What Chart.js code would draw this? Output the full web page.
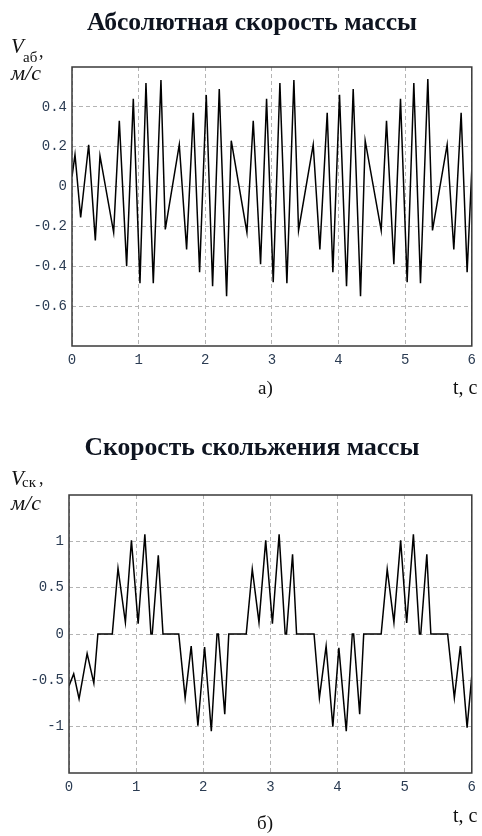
<!DOCTYPE html>
<html>
<head>
<meta charset="utf-8">
<script src="https://cdn.jsdelivr.net/npm/chart.js@4/dist/chart.umd.min.js"></script>
<style>
  body { margin: 0; background: #fff; }
  #page { position: relative; width: 482px; height: 836px; overflow: hidden; }
  canvas { position: absolute; left: 0; }
  .txt { position: absolute; line-height: 1; white-space: nowrap; font-family: "Liberation Serif", serif; color: #111; }
  .title { font-weight: bold; font-size: 25.6px; transform: translateX(-50%); color: #0e1420; }
  .it { font-style: italic; }
</style>
</head>
<body>
<div id="page">
  <canvas id="chartA" width="482" height="380" style="top:0"></canvas>
  <canvas id="chartB" width="482" height="400" style="top:420px"></canvas>

  <div class="txt title" style="left:252px; top:9px">Абсолютная скорость массы</div>
  <div class="txt it" style="left:11px; top:36px; font-size:21px">V</div>
  <div class="txt" style="left:23px; top:50px; font-size:15px">аб</div>
  <div class="txt" style="left:39px; top:42px; font-size:18px">,</div>
  <div class="txt it" style="left:11px; top:62px; font-size:22px">м/с</div>
  <div class="txt" style="left:258px; top:378px; font-size:19px">а)</div>
  <div class="txt" style="left:453px; top:377px; font-size:20px">t, c</div>

  <div class="txt title" style="left:252px; top:434px">Скорость скольжения массы</div>
  <div class="txt it" style="left:11px; top:468px; font-size:21px">V</div>
  <div class="txt" style="left:22px; top:475px; font-size:15px">ск</div>
  <div class="txt" style="left:39px; top:469px; font-size:18px">,</div>
  <div class="txt it" style="left:11px; top:492px; font-size:22px">м/с</div>
  <div class="txt" style="left:257px; top:813px; font-size:19px">б)</div>
  <div class="txt" style="left:453px; top:805px; font-size:20px">t, c</div>
</div>
<script>
// а) абсолютная скорость массы: время (с) и скорость (м/с) в точках экстремумов
const tAbs = [0, 0.045, 0.13, 0.25, 0.35, 0.42, 0.625, 0.71, 0.82, 0.92, 1.02, 1.11, 1.22, 1.335, 1.40,
  1.61, 1.72, 1.82, 1.915, 2.015, 2.11, 2.21, 2.32, 2.39, 2.625, 2.72, 2.83, 2.92, 3.02, 3.12, 3.225,
  3.33, 3.40, 3.62, 3.72, 3.83, 3.915, 4.015, 4.12, 4.22, 4.33, 4.40, 4.64, 4.72, 4.83, 4.93, 5.03,
  5.13, 5.23, 5.34, 5.41, 5.63, 5.73, 5.84, 5.93, 6.0];
const vAbs = [0.05, 0.16, -0.155, 0.21, -0.27, 0.155, -0.23, 0.33, -0.40, 0.44, -0.485, 0.52, -0.485, 0.535, -0.215,
  0.21, -0.315, 0.37, -0.43, 0.46, -0.50, 0.49, -0.55, 0.23, -0.23, 0.33, -0.39, 0.44, -0.48, 0.52, -0.485,
  0.535, -0.22, 0.21, -0.315, 0.37, -0.43, 0.46, -0.50, 0.49, -0.55, 0.23, -0.22, 0.33, -0.39, 0.44, -0.48,
  0.52, -0.485, 0.54, -0.22, 0.21, -0.315, 0.37, -0.43, 0.085];

// б) скорость скольжения массы
const tSk = [0, 0.07, 0.15, 0.27, 0.37, 0.43, 0.645, 0.73, 0.84, 0.93, 1.03, 1.13, 1.22, 1.24, 1.33, 1.40,
  1.635, 1.73, 1.82, 1.92, 2.02, 2.12, 2.205, 2.225, 2.32, 2.38, 2.64, 2.73, 2.83, 2.93, 3.03, 3.13,
  3.22, 3.24, 3.33, 3.39, 3.65, 3.73, 3.83, 3.93, 4.02, 4.13, 4.22, 4.24, 4.33, 4.39, 4.65, 4.74,
  4.84, 4.94, 5.03, 5.13, 5.22, 5.24, 5.33, 5.39, 5.64, 5.74, 5.83, 5.93, 6.0];
const vSk = [-0.56, -0.43, -0.70, -0.21, -0.53, 0, 0, 0.71, 0.125, 1.01, 0.11, 1.075, 0, 0, 0.85, 0,
  0, -0.69, -0.13, -0.99, -0.14, -1.05, 0, 0, -0.865, 0, 0, 0.70, 0.125, 1.01, 0.11, 1.075,
  0, 0, 0.86, 0, 0, -0.69, -0.13, -1.0, -0.15, -1.05, 0, 0, -0.865, 0, 0, 0.70,
  0.125, 1.01, 0.12, 1.075, 0, 0, 0.86, 0, 0, -0.69, -0.13, -1.01, -0.45];

const xTicks = [0, 1, 2, 3, 4, 5, 6];
const yTicksAbs = [-0.6, -0.4, -0.2, 0, 0.2, 0.4];
const yTicksSk = [-1, -0.5, 0, 0.5, 1];

// рамка вокруг области графика
const boxPlugin = {
  id: 'box',
  afterDraw(chart) {
    const a = chart.chartArea, ctx = chart.ctx;
    ctx.save();
    ctx.strokeStyle = '#3a3a3a';
    ctx.lineWidth = 1.5;
    ctx.strokeRect(a.left, a.top, a.right - a.left, a.bottom - a.top);
    ctx.restore();
  }
};

function makeChart(id, ts, vs, yMin, yMax, yTicks, pad, yWidth) {
  const tickFont = { family: 'Liberation Mono', size: 14 };
  const grid = { color: '#b4b4b4', lineWidth: 1, drawTicks: false };
  return new Chart(document.getElementById(id), {
    type: 'line',
    data: {
      datasets: [{
        data: ts.map((t, i) => ({ x: t, y: vs[i] })),
        borderColor: '#000',
        borderWidth: 1.5,
        pointRadius: 0,
        tension: 0
      }]
    },
    options: {
      responsive: false,
      animation: false,
      layout: { padding: pad },
      plugins: { legend: { display: false }, tooltip: { enabled: false } },
      scales: {
        x: {
          type: 'linear', min: 0, max: 6,
          afterBuildTicks: s => { s.ticks = xTicks.map(v => ({ value: v })); },
          afterFit: s => { s.height = 24; },
          ticks: { font: tickFont, color: '#2a3b52', padding: 6, maxRotation: 0, callback: v => String(v) },
          grid: grid,
          border: { display: false, dash: [4, 3] }
        },
        y: {
          type: 'linear', min: yMin, max: yMax,
          afterBuildTicks: s => { s.ticks = yTicks.map(v => ({ value: v })); },
          afterFit: s => { s.width = yWidth; },
          ticks: { font: tickFont, color: '#2a3b52', padding: 5, callback: v => String(v) },
          grid: grid,
          border: { display: false, dash: [4, 3] }
        }
      }
    },
    plugins: [boxPlugin]
  });
}

makeChart('chartA', tAbs, vAbs, -0.8, 0.6, yTicksAbs, { top: 67, right: 7, bottom: 10, left: 0 }, 72);
makeChart('chartB', tSk, vSk, -1.5, 1.5, yTicksSk, { top: 75, right: 9, bottom: 23, left: 0 }, 69);
</script>
</body>
</html>
